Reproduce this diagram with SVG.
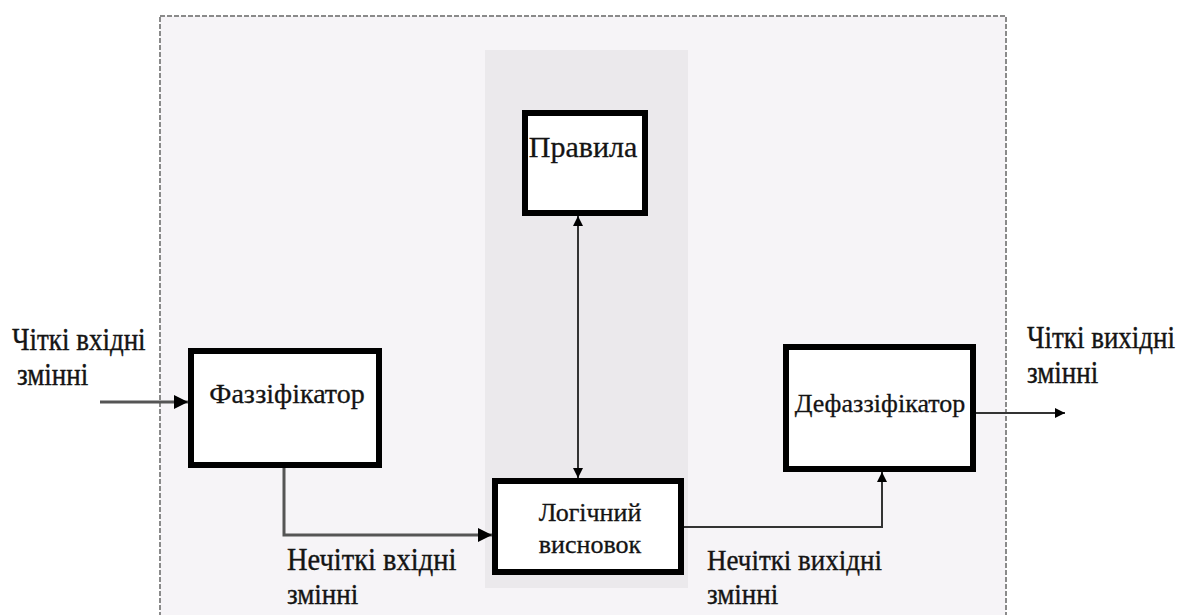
<svg xmlns="http://www.w3.org/2000/svg" width="1180" height="615" viewBox="0 0 1180 615">
  <defs>
    <style>
      .box { fill: #ffffff; stroke: #000000; stroke-width: 6; }
      .lbl { font-family: "Liberation Serif", "DejaVu Serif", serif; font-size: 27px; fill: #141414; stroke: #141414; stroke-width: 0.35; }
      .nlbl { font-family: "Liberation Serif", "DejaVu Serif", serif; font-size: 28px; fill: #141414; stroke: #141414; stroke-width: 0.3; text-anchor: middle; }
      .wire { fill: none; stroke: #333333; stroke-width: 2; }
      .thick { fill: none; stroke: #555555; stroke-width: 3; }
    </style>
    <marker id="arr" viewBox="0 0 10 10" refX="10" refY="5" markerWidth="10" markerHeight="12" markerUnits="userSpaceOnUse" orient="auto-start-reverse">
      <path d="M0,0 L10,5 L0,10 z" fill="#000000"/>
    </marker>
    <marker id="arrBig" viewBox="0 0 12 12" refX="12" refY="6" markerWidth="14" markerHeight="14" markerUnits="userSpaceOnUse" orient="auto">
      <path d="M0,0 L12,6 L0,12 z" fill="#000000"/>
    </marker>
  </defs>

  <rect width="1180" height="615" fill="#ffffff"/>

  <!-- system boundary -->
  <rect id="system" x="160" y="16" width="846" height="620" fill="#f6f4f7" stroke="#8a8a8a" stroke-width="2" stroke-dasharray="5,2"/>
  <!-- inference column -->
  <rect id="inference-zone" x="485" y="50" width="203" height="538" fill="#ebe9ec"/>

  <g id="connectors">
    <line class="thick" x1="100" y1="402" x2="188" y2="402" marker-end="url(#arrBig)"/>
    <polyline class="thick" points="284,468 284,535 492,535" marker-end="url(#arrBig)"/>
    <line class="wire" x1="578" y1="216" x2="578" y2="478" marker-start="url(#arr)" marker-end="url(#arr)"/>
    <polyline class="wire" points="684,527 882,527 882,472" marker-end="url(#arr)"/>
    <line class="wire" x1="976" y1="413" x2="1065" y2="413" marker-end="url(#arr)"/>
  </g>

  <g id="fuzzifier">
    <rect class="box" x="191" y="351" width="188" height="114"/>
    <text class="nlbl" x="287" y="403">Фаззіфікатор</text>
  </g>

  <g id="rules">
    <rect class="box" x="525" y="113" width="120" height="100"/>
    <text class="nlbl" x="583" y="157" style="font-size:30px">Правила</text>
  </g>

  <g id="inference">
    <rect class="box" x="495" y="481" width="186" height="91"/>
    <text class="nlbl" x="590" y="521" style="font-size:26px">Логічний</text>
    <text class="nlbl" x="590" y="553" style="font-size:26px">висновок</text>
  </g>

  <g id="defuzzifier">
    <rect class="box" x="786" y="347" width="187" height="122"/>
    <text class="nlbl" x="880" y="412" style="font-size:26px">Дефаззіфікатор</text>
  </g>

  <g id="labels">
    <text class="lbl" transform="translate(12,350) scale(1,1.15)">Чіткі вхідні</text>
    <text class="lbl" transform="translate(17,385) scale(1,1.15)">змінні</text>
    <text class="lbl" transform="translate(287,570) scale(1,1.1)" style="font-size:28.5px">Нечіткі вхідні</text>
    <text class="lbl" transform="translate(287,604) scale(1,1.1)">змінні</text>
    <text class="lbl" transform="translate(707,570) scale(1,1.1)">Нечіткі вихідні</text>
    <text class="lbl" transform="translate(707,604) scale(1,1.1)">змінні</text>
    <text class="lbl" transform="translate(1027,348) scale(1,1.15)">Чіткі вихідні</text>
    <text class="lbl" transform="translate(1027,383) scale(1,1.15)">змінні</text>
  </g>
</svg>
